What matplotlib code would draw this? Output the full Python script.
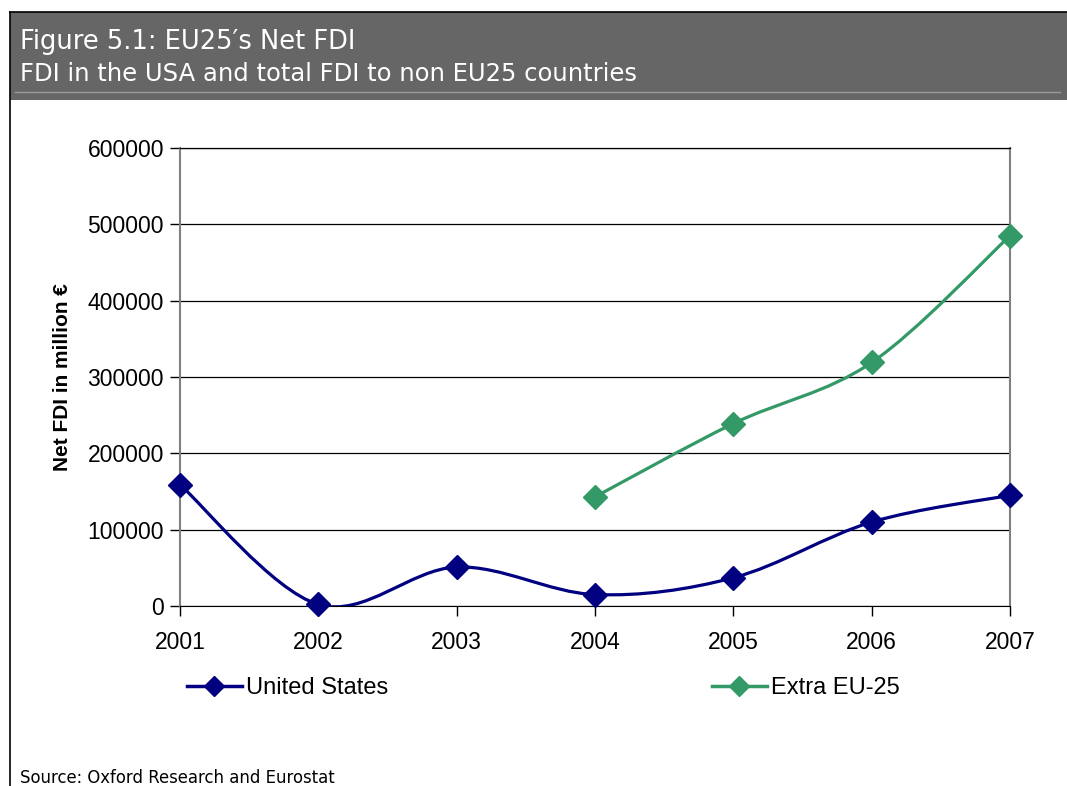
import numpy as np
import matplotlib.pyplot as plt
from matplotlib.path import Path
from matplotlib.patches import PathPatch, Rectangle
from matplotlib.lines import Line2D

years = [2001, 2002, 2003, 2004, 2005, 2006, 2007]
us_fdi = [159000, 2000, 51000, 15000, 37000, 110000, 145000]
extra_years = [2004, 2005, 2006, 2007]
extra_fdi = [143000, 239000, 319000, 485000]
yticks = [0, 100000, 200000, 300000, 400000, 500000, 600000]

navy = '#000080'
green = '#339966'


def smooth_path(x, y):
    # bezier segments like a spreadsheet "smoothed line"
    pts = np.column_stack([x, y]).astype(float)
    ext = np.vstack([pts[0], pts, pts[-1]])
    verts = [pts[0]]
    codes = [Path.MOVETO]
    for i in range(1, len(ext) - 2):
        p0, p1, p2, p3 = ext[i - 1], ext[i], ext[i + 1], ext[i + 2]
        verts += [p1 + (p2 - p0) / 6, p2 - (p3 - p1) / 6, p2]
        codes += [Path.CURVE4] * 3
    return Path(verts, codes)


fig = plt.figure(figsize=[10.67, 7.86], dpi=100)

# header band
fig.add_artist(Rectangle((10 / 1067, 1 - 100 / 786), 1 - 10 / 1067, 88 / 786,
                         transform=fig.transFigure, facecolor='#666666',
                         edgecolor='none'))
fig.add_artist(Line2D([10 / 1067, 1], [1 - 12 / 786] * 2, color='black', lw=1.2))
fig.add_artist(Line2D([10 / 1067] * 2, [0, 1 - 12 / 786], color='black', lw=1.2))
fig.add_artist(Line2D([15 / 1067, 1060 / 1067], [1 - 92 / 786] * 2,
                      color='#9a9a9a', lw=1))
fig.text(20 / 1067, 1 - 42 / 786, 'Figure 5.1: EU25\u2032s Net FDI', color='white',
         fontsize=18.5, va='center', family='DejaVu Sans')
fig.text(20 / 1067, 1 - 74 / 786, 'FDI in the USA and total FDI to non EU25 countries',
         color='white', fontsize=17.5, va='center', family='DejaVu Sans')
fig.text(20 / 1067, 1 - 778 / 786, 'Source: Oxford Research and Eurostat',
         fontsize=11.9, va='center', family='DejaVu Sans')

ax = fig.add_axes([180 / 1067, 1 - 606 / 786, 830 / 1067, 458 / 786])
ax.add_patch(PathPatch(smooth_path(years, us_fdi), facecolor='none',
                       edgecolor=navy, lw=2.3, zorder=3))
ax.add_patch(PathPatch(smooth_path(extra_years, extra_fdi), facecolor='none',
                       edgecolor=green, lw=2.3, zorder=3))
ax.plot(years, us_fdi, ls='none', marker='D', ms=12.5, color=navy, zorder=4,
        clip_on=False)
ax.plot(extra_years, extra_fdi, ls='none', marker='D', ms=12.5, color=green,
        zorder=4, clip_on=False)

ax.set_xlim(2001, 2007)
ax.set_ylim(0, 600000)
ax.set_xticks(years)
ax.set_yticks(yticks)
ax.set_yticklabels([str(v) for v in yticks])
ax.grid(axis='y', color='black', lw=0.9)
ax.set_axisbelow(True)
for s in ['left', 'right']:
    ax.spines[s].set_color('#808080')
    ax.spines[s].set_linewidth(1.5)
ax.spines['bottom'].set_color('black')
ax.spines['top'].set_color('black')
ax.spines['top'].set_linewidth(0.9)
ax.tick_params(axis='both', direction='out', length=7, width=1,
               labelsize=16.5, colors='black')
ax.tick_params(axis='x', pad=11)
ax.tick_params(axis='y', pad=4.5)
for lab in ax.get_xticklabels() + ax.get_yticklabels():
    lab.set_family('Liberation Sans')
ax.set_ylabel('Net FDI in million \u20ac', fontsize=15, fontweight='bold',
              family='Liberation Sans', labelpad=11)

# legend
h1 = Line2D([], [], color=navy, lw=2.5, marker='D', ms=10)
h2 = Line2D([], [], color=green, lw=2.5, marker='D', ms=10)
leg1 = fig.legend([h1], ['United States'], loc='center left',
                  bbox_to_anchor=(166 / 1067, 1 - 688 / 786), frameon=False,
                  prop={'family': 'Liberation Sans', 'size': 17},
                  handlelength=2.3, handletextpad=0.2)
leg2 = fig.legend([h2], ['Extra EU-25'], loc='center left',
                  bbox_to_anchor=(691 / 1067, 1 - 688 / 786), frameon=False,
                  prop={'family': 'Liberation Sans', 'size': 17},
                  handlelength=2.3, handletextpad=0.2)

fig.savefig('out.png', dpi=100)
